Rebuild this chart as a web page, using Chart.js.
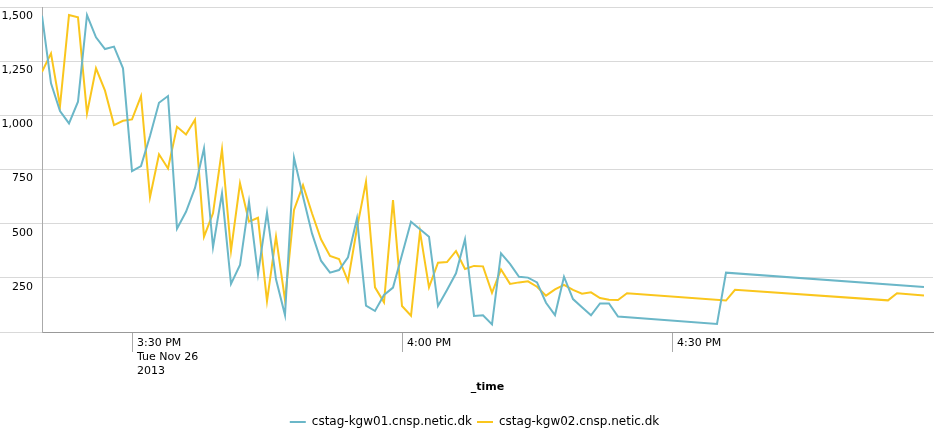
<!DOCTYPE html>
<html><head><meta charset="utf-8">
<script src="https://cdn.jsdelivr.net/npm/chart.js@4.4.0/dist/chart.umd.min.js"></script>
<style>html,body{margin:0;padding:0;background:#fff;}canvas{display:block;}</style>
</head><body>
<canvas id="c" width="943" height="436"></canvas>
<script>
const times = [
 '15:20','15:21','15:22','15:23','15:24','15:25','15:26','15:27','15:28','15:29',
 '15:30','15:31','15:32','15:33','15:34','15:35','15:36','15:37','15:38','15:39',
 '15:40','15:41','15:42','15:43','15:44','15:45','15:46','15:47','15:48','15:49',
 '15:50','15:51','15:52','15:53','15:54','15:55','15:56','15:57','15:58','15:59',
 '16:00','16:01','16:02','16:03','16:04','16:05','16:06','16:07','16:08','16:09',
 '16:10','16:11','16:12','16:13','16:14','16:15','16:16','16:17','16:18','16:19',
 '16:20','16:21','16:22','16:23','16:24','16:25',
 '16:35','16:36','16:37','16:54','16:55','16:58'
];
const kgw01 = [
 1460,1148,1020,963,1063,1463,1360,1306,1317,1217,
 743,766,905,1058,1089,477,555,665,848,391,
 640,222,309,601,266,552,243,78,804,625,
 455,329,274,286,345,525,122,97,171,205,
 357,509,474,440,120,194,271,428,74,77,
 35,363,314,255,251,229,135,78,255,152,
 114,77,132,132,71,null,
 37,274,null,null,null,208
];
const kgw02 = [
 1201,1286,1043,1463,1452,1009,1217,1114,955,975,
 981,1089,622,820,755,947,912,980,440,548,
 843,375,686,509,527,143,440,148,563,678,
 548,428,351,337,235,480,694,206,137,609,
 120,75,463,206,320,323,374,291,305,303,
 181,289,222,229,234,209,168,197,218,194,
 177,183,157,149,148,179,
 null,145,195,146,179,168
];
const seriesNames = ['cstag-kgw01.cnsp.netic.dk','cstag-kgw02.cnsp.netic.dk'];
const seriesColors = ['#6BB7C8','#FAC61D'];
const xRange = ['15:20','16:59'];
const xTickTimes = ['15:30','16:00','16:30'];
const xTickLabels = [['3:30 PM','Tue Nov 26','2013'],['4:00 PM'],['4:30 PM']];
const yTicks = [0,250,500,750,1000,1250,1500];
const xTitle = '_time';

const toMin = s => { const [h,m] = s.split(':').map(Number); return (h-15)*60+m; };
const fmt = v => String(v).replace(/\B(?=(\d{3})+(?!\d))/g, ',');
const mk = vals => times.map((t,i)=>({x: toMin(t), y: vals[i]}));

Chart.defaults.font.family = "'DejaVu Sans', sans-serif";
Chart.defaults.color = '#000';

const legendShift = {
  id: 'legendShift',
  afterLayout(chart) {
    const l = chart.legend;
    if (l) { l.left += 8; l.right += 8; l.top += 2; l.bottom += 2; }
  }
};

new Chart(document.getElementById('c'), {
  type: 'line',
  data: {
    datasets: [
      {label: seriesNames[0], data: mk(kgw01), borderColor: seriesColors[0], backgroundColor: seriesColors[0], borderWidth: 2, pointRadius: 0, tension: 0, spanGaps: true},
      {label: seriesNames[1], data: mk(kgw02), borderColor: seriesColors[1], backgroundColor: seriesColors[1], borderWidth: 2, pointRadius: 0, tension: 0, spanGaps: true}
    ]
  },
  plugins: [legendShift],
  options: {
    responsive: false,
    animation: false,
    devicePixelRatio: 1,
    layout: {padding: {top: 7, right: 10, left: 0, bottom: 0}},
    plugins: {
      tooltip: {enabled: false},
      legend: {
        position: 'bottom',
        labels: {
          font: {size: 12}, color: '#000', boxWidth: 16, boxHeight: 2, padding: 5,
          generateLabels: chart => chart.data.datasets.map((d,i)=>({text: d.label, fillStyle: d.borderColor, strokeStyle: d.borderColor, lineWidth: 0, hidden: false, datasetIndex: i}))
        }
      }
    },
    scales: {
      x: {
        type: 'linear',
        min: toMin(xRange[0]), max: toMin(xRange[1]),
        afterBuildTicks: s => { s.ticks = xTickTimes.map(t=>({value: toMin(t)})); },
        afterFit: s => { s.height = 77; s.paddingLeft = 0; s.paddingRight = 0; },
        ticks: {
          autoSkip: false, maxRotation: 0, minRotation: 0, align: 'start', labelOffset: 5, padding: -16,
          font: {size: 11, lineHeight: '14px'}, color: '#000',
          callback: v => { const i = xTickTimes.findIndex(t=>toMin(t)===v); return i>=0 ? xTickLabels[i] : ''; }
        },
        grid: {drawOnChartArea: false, drawTicks: true, tickLength: 20, color: '#aaa'},
        border: {color: '#999'},
        title: {display: true, text: xTitle, font: {size: 11, weight: 'bold'}, color: '#000', padding: {top: 0, bottom: 15}}
      },
      y: {
        min: 0, max: 1500,
        afterBuildTicks: s => { s.ticks = yTicks.map(v=>({value: v})); },
        afterFit: s => { s.width = 42; s.paddingTop = 0; s.paddingBottom = 0; },
        ticks: {
          font: {size: 11}, color: '#000', labelOffset: 9, padding: -33,
          callback: v => v === 0 ? '' : fmt(v)
        },
        grid: {color: '#d9d9d9', tickLength: 42, drawTicks: true},
        border: {color: '#aaa'}
      }
    }
  }
});
</script>
</body></html>
